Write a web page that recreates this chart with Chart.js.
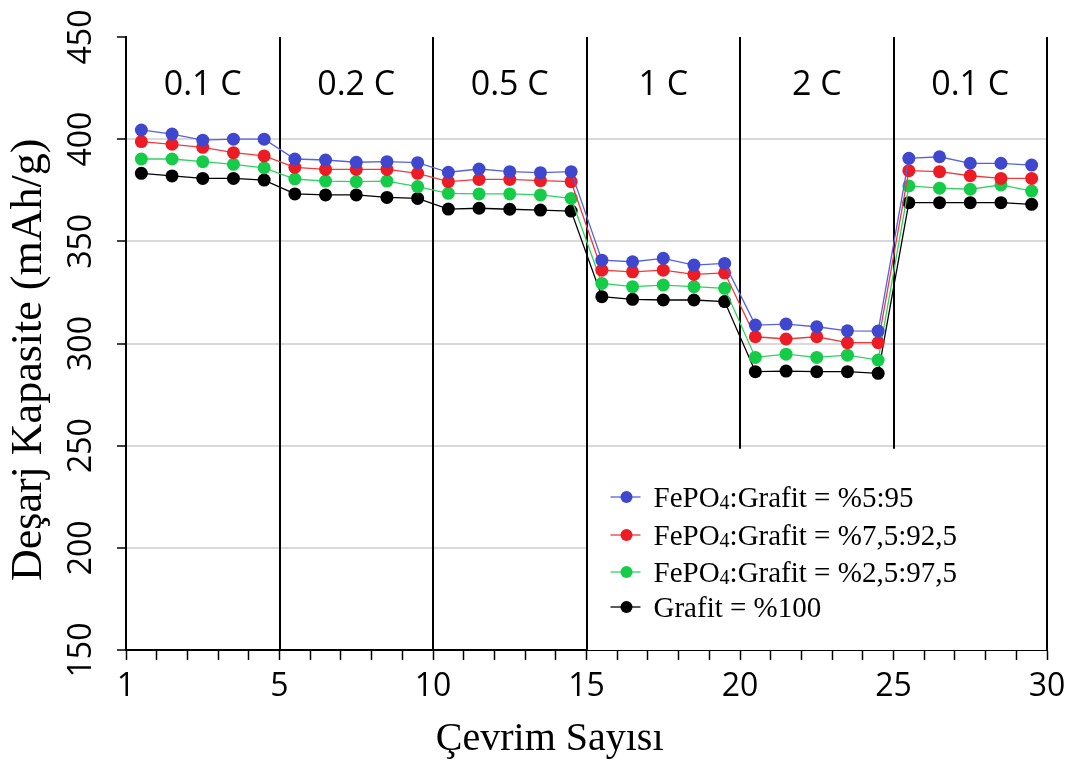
<!DOCTYPE html>
<html>
<head>
<meta charset="utf-8">
<script src="https://cdn.jsdelivr.net/npm/chart.js@4.4.0/dist/chart.umd.min.js"></script>
<style>
  body { margin: 0; background: #fff; }
</style>
</head>
<body>
<canvas id="rateChart" width="1079" height="765"></canvas>
<script>
// cycle numbers
const cycles = [1, 2, 3, 4, 5, 6, 7, 8, 9, 10, 11, 12, 13, 14, 15,
                16, 17, 18, 19, 20, 21, 22, 23, 24, 25, 26, 27, 28, 29, 30];

// discharge capacity (mAh/g)
const fepo5 = [404.5, 402.5, 399.5, 400, 400, 390.3, 389.8, 388.7, 389, 388.5,
               383.8, 385.4, 384.1, 383.6, 384.1, 340.8, 340, 341.7, 338.4, 339.2,
               309, 309.5, 308.2, 306.2, 306.1, 390.6, 391.4, 388.2, 388.2, 387.3];
const fepo75 = [398.8, 397.5, 396, 393.4, 391.8, 386.2, 385.2, 385.2, 385.2, 383.3,
                379.2, 380.3, 380.3, 379.7, 379.2, 335.9, 335.1, 335.9, 333.8, 334.6,
                303.3, 302.2, 303.3, 300.4, 300.4, 384.6, 384.1, 382.1, 380.8, 380.8];
const fepo25 = [390.3, 390.3, 389, 387.7, 386, 380.5, 379.5, 379.2, 379.5, 376.8,
                373.5, 373.2, 373.2, 372.7, 371, 329.4, 327.8, 328.6, 327.8, 327,
                293.2, 294.8, 293.2, 294.3, 291.9, 377.1, 376, 375.5, 377.6, 374.6];
const grafit = [383.3, 382, 380.8, 380.8, 380, 373.2, 372.7, 372.7, 371.5, 371,
                365.8, 366.2, 365.7, 365.3, 364.8, 322.9, 321.6, 321.3, 321.3, 320.5,
                286.2, 286.5, 286.2, 286.2, 285.4, 368.9, 368.9, 368.9, 368.9, 368.1];

const seriesNames = ["FePO4:Grafit = %5:95", "FePO4:Grafit = %7,5:92,5",
                     "FePO4:Grafit = %2,5:97,5", "Grafit = %100"];
const seriesValues = [fepo5, fepo75, fepo25, grafit];
const markerColors = ["#4047cf", "#ed1c24", "#14cc48", "#000000"];
const lineColors = ["#5560e6", "#f03a3a", "#2fd261", "#000000"];

// C-rate segments
const rateLabels = ["0.1 C", "0.2 C", "0.5 C", "1 C", "2 C", "0.1 C"];
const segmentEdges = [0, 5, 10, 15, 20, 25, 30];

// axis ticks and titles
const xTickValues = [0, 5, 10, 15, 20, 25, 30];
const xTickLabels = ["1", "5", "10", "15", "20", "25", "30"];
const yTicks = [150, 200, 250, 300, 350, 400, 450];
const xTitle = "Çevrim Sayısı";
const yTitle = "Deşarj Kapasite (mAh/g)";

const rateSteps = {
    id: "rateSteps",
    beforeDatasetsDraw(chart) {
        const { ctx, scales: { x, y } } = chart;
        const yTop = y.getPixelForValue(450);
        const yBot = y.getPixelForValue(150);
        const yCut = y.getPixelForValue(248.5);

        ctx.save();
        // legend box area blanks the grid
        ctx.fillStyle = "#fff";
        ctx.fillRect(x.getPixelForValue(15), yCut, x.getPixelForValue(30) - x.getPixelForValue(15), yBot - yCut);

        ctx.strokeStyle = "#000";
        ctx.lineWidth = 2;
        segmentEdges.slice(1).forEach(v => {
            const px = Math.round(x.getPixelForValue(v));
            const end = (v === 20 || v === 25) ? yCut : yBot;
            ctx.beginPath();
            ctx.moveTo(px, yTop);
            ctx.lineTo(px, end);
            ctx.stroke();
        });

        ctx.fillStyle = "#000";
        ctx.font = "34px 'Open Sans'";
        ctx.textAlign = "center";
        ctx.textBaseline = "middle";
        rateLabels.forEach((t, i) => {
            const cx = x.getPixelForValue((segmentEdges[i] + segmentEdges[i + 1]) / 2);
            ctx.fillText(t, cx, y.getPixelForValue(426.5));
        });

        // axis titles
        ctx.font = "40px 'Liberation Serif'";
        ctx.textBaseline = "alphabetic";
        ctx.fillText(xTitle, x.getPixelForValue(13.8), chart.height - 15);

        ctx.translate(41, y.getPixelForValue(292));
        ctx.rotate(-Math.PI / 2);
        ctx.font = "44px 'Liberation Serif'";
        ctx.fillText(yTitle, 0, 0);
        ctx.restore();
    },
    afterDatasetsDraw(chart) {
        const { ctx, scales: { x } } = chart;
        const left = x.getPixelForValue(15);
        const rowY = [497, 535, 572, 607];
        ctx.save();
        ctx.textBaseline = "alphabetic";
        ctx.textAlign = "left";
        seriesNames.forEach((name, i) => {
            const cy = rowY[i];
            ctx.strokeStyle = lineColors[i];
            ctx.lineWidth = 1.3;
            ctx.beginPath();
            ctx.moveTo(left + 24, cy);
            ctx.lineTo(left + 54, cy);
            ctx.stroke();
            ctx.fillStyle = markerColors[i];
            ctx.beginPath();
            ctx.arc(left + 40, cy, 6, 0, Math.PI * 2);
            ctx.fill();

            ctx.fillStyle = "#000";
            let tx = left + 67;
            const base = cy + 10;
            ctx.font = "29px 'Liberation Serif'";
            if (name.startsWith("FePO4")) {
                ctx.fillText("FePO", tx, base);
                tx += ctx.measureText("FePO").width;
                ctx.font = "20px 'Liberation Serif'";
                ctx.fillText("4", tx, base + 2);
                tx += ctx.measureText("4").width;
                ctx.font = "29px 'Liberation Serif'";
                ctx.fillText(name.slice(5), tx, base);
            } else {
                ctx.fillText(name, tx, base);
            }
        });
        ctx.restore();
    }
};

const datasets = seriesNames.map((name, i) => ({
    label: name,
    data: cycles.map((c, j) => ({ x: c - 0.5, y: seriesValues[i][j] })),
    borderColor: lineColors[i],
    borderWidth: 1.3,
    backgroundColor: markerColors[i],
    pointBackgroundColor: markerColors[i],
    pointBorderColor: markerColors[i],
    pointRadius: 6.5,
    pointBorderWidth: 0,
    tension: 0
}));

const ctx = document.getElementById("rateChart").getContext("2d");
new Chart(ctx, {
    type: "line",
    data: { datasets: datasets },
    plugins: [rateSteps],
    options: {
        responsive: false,
        animation: false,
        devicePixelRatio: 1,
        layout: { padding: { top: 37, right: 32, left: 0, bottom: 0 } },
        plugins: { legend: { display: false }, tooltip: { enabled: false } },
        scales: {
            x: {
                type: "linear",
                min: 0,
                max: 30,
                afterFit(s) { s.height = 115; },
                border: { color: "#000", width: 2 },
                grid: { drawOnChartArea: false, tickColor: "#000", tickLength: 10, tickWidth: 1.5 },
                ticks: {
                    stepSize: 1,
                    autoSkip: false,
                    maxRotation: 0,
                    padding: 8,
                    color: "#000",
                    font: { family: "Open Sans", size: 32 },
                    callback: v => {
                        const k = xTickValues.indexOf(v);
                        return k >= 0 ? xTickLabels[k] : "";
                    }
                }
            },
            y: {
                min: 150,
                max: 450,
                afterFit(s) { s.width = 126; },
                afterBuildTicks(s) { s.ticks = yTicks.map(v => ({ value: v })); },
                border: { color: "#000", width: 2 },
                grid: {
                    color: c => (c.tick && (c.tick.value === 150 || c.tick.value === 450)) ? "rgba(0,0,0,0)" : "#d9d9d9",
                    lineWidth: 2,
                    tickColor: "#000",
                    tickLength: 9,
                    tickWidth: 1.5
                },
                ticks: {
                    minRotation: 90,
                    maxRotation: 90,
                    crossAlign: "center",
                    padding: 8,
                    color: "#000",
                    font: { family: "Open Sans", size: 32 }
                }
            }
        }
    }
});
</script>
</body>
</html>
